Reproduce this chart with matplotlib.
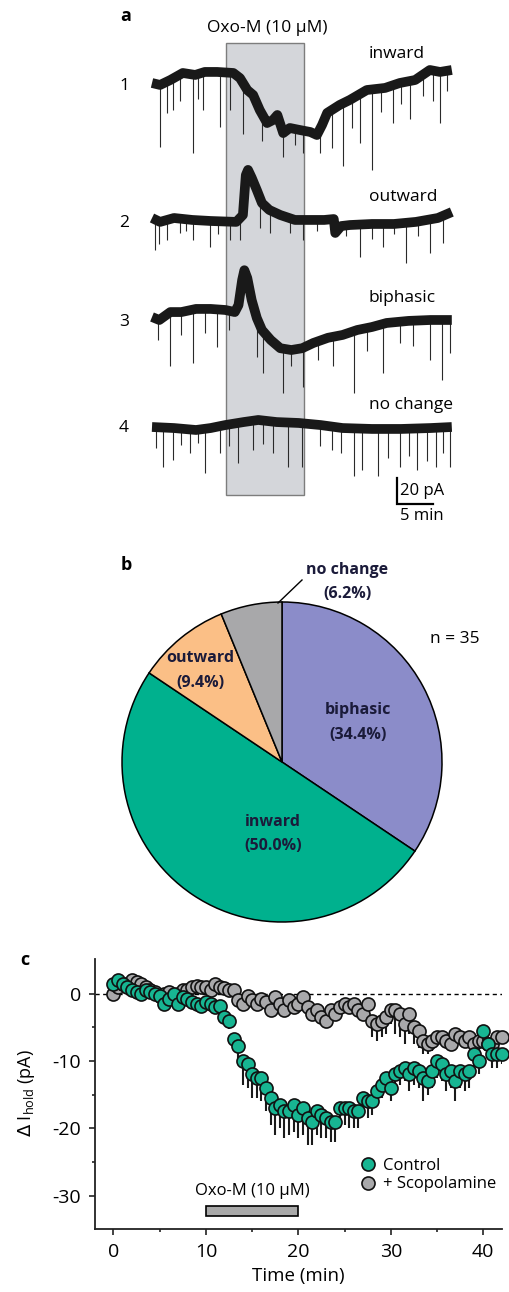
import numpy as np
import matplotlib
matplotlib.use('Agg')
import matplotlib.pyplot as plt
from matplotlib.patches import Rectangle
from matplotlib.lines import Line2D

plt.rcParams['font.family'] = ['Open Sans', 'DejaVu Sans']

W, H = 510, 1292
def fx(px): return px / W
def fy(py): return 1 - py / H

# ---------------- panel a: example traces (min, pA relative to start) ----------------
tr1_t = [0.0, 1.1, 2.5, 4.2, 5.9, 7.2, 8.9, 11.1, 12.0, 13.0, 13.8, 14.7, 15.7, 16.5, 17.1,
         17.9, 18.8, 20.2, 21.6, 22.5, 23.2, 23.9, 25.6, 27.0, 29.3, 31.8, 33.8, 35.9, 37.9, 39.3, 40.9]
tr1_v = [0, -1.5, 2.3, 7.7, 6.2, 8.5, 8.5, 7.7, 3.8, -5.4, -9.2, -20.8, -30.8, -28.5, -24.6,
         -38.5, -34.6, -36.2, -37.7, -40, -32.3, -23, -16.9, -13, -5.4, -3.8, 0, 2.3, 10, 8.5, 10]
sp1_t = [1.1, 2.0, 2.9, 5.6, 7.0, 9.3, 10.6, 12.4, 17.9, 20.6, 22.9, 26.1, 28.4, 30.0, 32.9, 35.2, 39.3,
         3.8, 6.3, 15.0, 19.5, 24.5, 27.3, 31.2, 34.0, 37.0, 38.3, 40.2]
sp1_b = [-49, -23, -21, -54, -21, -34, -21, -39, -57, -54, -54, -64, -46, -67, -31, -28, -31,
         -14, -12, -45, -48, -50, -35, -22, -16, -10, -14, -6]

tr2_t = [0.0, 1.1, 3.0, 5.5, 8.0, 11.5, 12.4, 12.8, 13.1, 13.6, 14.3, 15.0, 16.0, 17.5, 19.5,
         21.5, 23.5, 24.8, 25.0, 25.8, 27.0, 30.0, 33.0, 36.0, 39.0, 40.9]
tr2_v = [0, -3, 0, -1.5, -2.3, -3, 2.3, 33, 37, 31, 21.5, 11.5, 6.2, 2.3, -1.5,
         -1.5, -1.5, -0.8, -11.5, -6.2, -5.4, -4.6, -4.6, -3, 0, 4.6]
sp2_t = [0.4, 2.0, 3.8, 5.6, 7.9, 10.6, 12.0, 16.1, 18.8, 20.6, 28.4, 31.5, 34.7, 37.9, 39.7,
         1.0, 4.6, 9.0, 14.8, 22.5, 26.5, 30.0, 33.0, 36.3]
sp2_b = [-24.6, -17, -11.5, -17, -22, -17, -17, -11.5, -11.5, -17, -29.7, -22, -35, -27, -19.5,
         -20, -10, -12, -8, -10, -14, -16, -12, -14]

tr3_t = [0.0, 1.0, 2.5, 4.0, 6.0, 8.0, 10.0, 11.3, 11.8, 12.3, 12.6, 13.0, 13.6, 14.3, 15.0,
         16.2, 17.5, 19.0, 20.5, 22.0, 24.0, 26.0, 28.0, 30.0, 32.0, 35.0, 38.0, 40.9]
tr3_v = [0, -2.3, 3.8, 3.8, 6.2, 6.2, 5.4, 3.8, 9.2, 28.5, 36, 30, 13, -0.8, -10,
         -17.7, -24, -25.4, -24, -20, -16, -13.8, -10, -7.7, -4.6, -3, -2.3, -2.3]
sp3_t = [2.5, 5.6, 8.9, 14.3, 15.2, 17.9, 20.6, 24.7, 27.5, 31.5, 37.9, 39.5, 40.7,
         0.8, 4.0, 7.2, 10.5, 19.0, 22.6, 29.3, 33.8, 35.6]
sp3_b = [-38, -35.6, -23, -30.5, -43, -58.7, -53.6, -38, -58.7, -43, -33, -48.5, -28,
         -18, -14, -12, -10, -38, -33, -26, -20, -22]

tr4_t = [0, 3, 6, 8, 10, 12.5, 14.5, 17, 20, 23, 26, 30, 34, 38, 40.9]
tr4_v = [0, -0.8, -2.3, -0.8, 1.5, 3.8, 5.4, 3.8, 3.1, 1.5, -0.8, -1.5, -1.5, -0.8, 0]
sp4_t = [1.5, 2.9, 5.2, 7.2, 9.3, 11.8, 13.8, 16.5, 18.6, 20.4, 22.9, 27.5, 28.6, 30.9, 33.8,
         36.1, 38.8, 40.7, 0.6, 4.0, 6.3, 10.5, 15.2, 24.5, 25.8, 32.2, 35.0, 37.5, 39.7]
sp4_b = [-30.5, -25.4, -20, -35.6, -20, -28, -17.7, -20, -30.5, -30.5, -15, -38, -33, -38, -30.5,
         -33, -30.5, -30.5, -16, -14, -12, -15, -13, -18, -20, -24, -22, -26, -20]

traces = [(tr1_t, tr1_v, sp1_t, sp1_b), (tr2_t, tr2_v, sp2_t, sp2_b),
          (tr3_t, tr3_v, sp3_t, sp3_b), (tr4_t, tr4_v, sp4_t, sp4_b)]
trace_nums = ['1', '2', '3', '4']
trace_names = ['inward', 'outward', 'biphasic', 'no change']
oxo_a = (10.1, 20.7)

# ---------------- panel b: response types ----------------
pie_labels = ['biphasic', 'inward', 'outward', 'no change']
pie_pct = [34.4, 50.0, 9.4, 6.2]
pie_colors = ['#8b8cc9', '#00b18e', '#fbbf86', '#a8a8aa']

# ---------------- panel c: mean holding current ----------------
time_c = np.arange(0, 42.5, 0.5)
ctrl = [1.5, 2.0, 1.5, 1.0, 0.5, 0.3, 0.0, 0.5, 0.3, 0.0,
        -0.3, -1.5, -0.8, 0.0, -1.5, -0.5, -0.8, -1.2, -1.5, -1.8,
        -1.3, -1.6, -2.0, -1.8, -3.5, -4.0, -6.8, -7.8, -10.0, -10.5,
        -12.0, -12.5, -12.5, -14.0, -15.5, -17.0, -16.5, -17.5, -17.5, -16.5,
        -18.0, -17.0, -18.5, -19.0, -17.5, -18.0, -18.5, -19.0, -19.0, -17.0,
        -17.0, -17.0, -17.5, -17.5, -15.5, -16.0, -16.0, -14.5, -13.5, -12.5,
        -14.0, -12.0, -11.5, -11.0, -12.0, -11.0, -11.5, -12.5, -13.0, -11.5,
        -10.0, -10.5, -12.0, -11.5, -13.0, -11.5, -12.0, -11.5, -9.0, -10.0,
        -5.5, -7.5, -9.0, -9.0, -9.0]
ctrl_err = [0.8] * 24 + [1.0, 1.2, 1.5, 2.0, 3.5, 3.5, 3.5, 3.0, 3.5, 3.5,
                         4.0, 4.0, 3.5, 4.0, 3.5, 4.0, 3.5, 4.0, 4.0, 3.5,
                         3.5, 3.5, 3.0, 3.0, 3.0, 3.0, 2.5, 3.0, 2.5, 2.5,
                         2.5, 2.5, 2.0, 2.0, 2.0, 2.0, 2.0, 2.0, 2.0, 2.0,
                         2.5, 2.5, 2.5, 3.5, 2.0, 2.5, 2.5, 2.5, 2.5, 2.5,
                         3.0, 2.5, 2.5, 2.5, 2.0, 2.0, 1.5, 1.5, 2.0, 2.0, 1.5]
scop = [0.0, 1.0, 1.5, 1.5, 2.0, 1.8, 1.5, 1.0, 0.5, 0.3,
        -0.3, 0.0, 0.3, -0.3, 0.0, 0.5, 0.5, 1.0, 1.2, 1.0,
        1.0, 0.5, 1.5, 1.0, 0.8, 0.5, 0.5, -1.0, -1.5, -0.3,
        -1.0, -1.5, -0.8, -1.3, -2.5, -0.5, -1.5, -2.5, -1.0, -2.0,
        -1.5, -0.5, -2.0, -3.0, -2.5, -3.5, -4.0, -2.5, -3.0, -2.0,
        -1.5, -2.0, -1.5, -2.5, -3.0, -1.5, -4.0, -4.5, -4.0, -3.5,
        -2.5, -2.5, -3.0, -4.5, -3.0, -5.0, -5.5, -7.0, -7.5, -7.0,
        -6.5, -6.5, -7.0, -7.5, -6.0, -6.5, -7.0, -6.5, -7.5, -7.0,
        -7.0, -7.5, -7.5, -6.5, -6.5]
scop_err = [0.8] * 56 + [2.5, 2.5, 2.5, 2.5, 2.0, 3.5, 3.5, 3.0, 3.0, 2.5,
                         2.5, 2.0, 1.5, 1.5, 1.0] + [0.8] * 14
oxo_c = (10, 20)

fig = plt.figure(figsize=(W / 100, H / 100), dpi=100)

# ===== panel a =====
ppm, ppa = 7.33, 1.3          # px per minute, px per pA
ax_a = fig.add_axes([0, fy(540), 1, 540 / H])
ax_a.set_xlim(-152 / ppm, (W - 152) / ppm)
ax_a.set_ylim(-540 / ppa, 0)
ax_a.axis('off')
offsets = [-83 / ppa, -218 / ppa, -317 / ppa, -427 / ppa]

ax_a.add_patch(Rectangle((oxo_a[0], -495 / ppa), oxo_a[1] - oxo_a[0], (495 - 42.7) / ppa,
                         fc='#d4d6da', ec='#7d7d7d', lw=1.0, zorder=0))
for (t, v, st, sb), off in zip(traces, offsets):
    v = np.array(v) + off
    top = np.interp(st, t, v)
    ax_a.vlines(st, np.array(sb) + off, top, color='#2a2a2a', lw=0.8, zorder=2)
    ax_a.plot(t, v, color='#191919', lw=7.0, solid_joinstyle='round',
              solid_capstyle='butt', zorder=4)

# scale bar: 20 pA, 5 min
sb_t, sb_y = 33.4, -504 / ppa
ax_a.plot([sb_t, sb_t, sb_t + 5], [sb_y + 20, sb_y, sb_y], color='black', lw=1.6,
          solid_joinstyle='miter')
fig.text(fx(400), fy(491), '20 pA', fontsize=12, ha='left', va='center')
fig.text(fx(422), fy(516), '5 min', fontsize=12, ha='center', va='center')

fig.text(fx(126), fy(16), 'a', fontsize=13, fontweight='bold', ha='center', va='center')
fig.text(fx(267), fy(28), 'Oxo-M (10 µM)', fontsize=12.5, ha='center', va='center')
num_y = [86, 223, 322, 428]
name_y = [54, 197, 298, 405]
for n, ny, nm, my in zip(trace_nums, num_y, trace_names, name_y):
    fig.text(fx(124), fy(ny), n, fontsize=12.5, ha='center', va='center')
    fig.text(fx(369), fy(my), nm, fontsize=12.5, ha='left', va='center')

# ===== panel b =====
cx, cy, r = 282, 762, 160
ax_b = fig.add_axes([fx(cx - 170), fy(cy + 170), 340 / W, 340 / H])
ax_b.pie(pie_pct, colors=pie_colors, startangle=90, counterclock=False,
         wedgeprops=dict(edgecolor='black', linewidth=1.1))
ax_b.set_xlim(-170 / r, 170 / r)
ax_b.set_ylim(-170 / r, 170 / r)
txt_c = '#1b1b3a'
pie_pos = {'biphasic': (358, 710, 735), 'inward': (273, 822, 846),
           'outward': (200, 658, 683), 'no change': (347, 570, 594)}
for lab, p in zip(pie_labels, pie_pct):
    x, y1, y2 = pie_pos[lab]
    fig.text(fx(x), fy(y1), lab, fontsize=11.5, fontweight='bold', color=txt_c, ha='center', va='center')
    fig.text(fx(x), fy(y2), '(%.1f%%)' % p, fontsize=11.5, fontweight='bold', color=txt_c,
             ha='center', va='center')
fig.add_artist(Line2D([fx(278), fx(302)], [fy(603), fy(580)], color='black', lw=1.0))
fig.text(fx(455), fy(639), 'n = 35', fontsize=12.5, ha='center', va='center')
fig.text(fx(126), fy(565), 'b', fontsize=13, fontweight='bold', ha='center', va='center')

# ===== panel c =====
ax_c = fig.add_axes([fx(95), fy(1229.3), (501.7 - 95) / W, (1229.3 - 959.3) / H])
ax_c.set_xlim(-2, 42)
ax_c.set_ylim(-35, 5.1)
ax_c.axhline(0, color='black', lw=1.0, ls=(0, (3, 2.5)), zorder=1)
ax_c.vlines(time_c, np.array(scop) - np.array(scop_err), scop, color='#1a1a1a', lw=1.5, zorder=2)
ax_c.plot(time_c, scop, 'o', ms=9.4, mfc='#a9a9ab', mec='#111111', mew=1.2, zorder=3,
          clip_on=False, label='+ Scopolamine')
ax_c.vlines(time_c, np.array(ctrl) - np.array(ctrl_err), ctrl, color='#1a1a1a', lw=1.5, zorder=4)
ax_c.plot(time_c, ctrl, 'o', ms=9.4, mfc='#17b592', mec='#111111', mew=1.2, zorder=5,
          clip_on=False, label='Control')
ax_c.add_patch(Rectangle((oxo_c[0], -33.0), oxo_c[1] - oxo_c[0], 1.5, fc='#a9a9a9', ec='black', lw=1.2))
ax_c.text(15, -29.3, 'Oxo-M (10 µM)', fontsize=12, ha='center', va='center')

for s in ['top', 'right']:
    ax_c.spines[s].set_visible(False)
for s in ['left', 'bottom']:
    ax_c.spines[s].set_linewidth(1.3)
    ax_c.spines[s].set_color('#222222')
ax_c.set_xticks([0, 10, 20, 30, 40])
ax_c.set_xticks([5, 15, 25, 35], minor=True)
ax_c.set_yticks([0, -10, -20, -30])
ax_c.set_yticks([-5, -15, -25], minor=True)
ax_c.set_yticklabels(['0', '-10', '-20', '-30'])
ax_c.tick_params(which='major', length=4, width=1.2, labelsize=14, pad=6, color='#222222')
ax_c.tick_params(which='minor', length=2, width=1.2, color='#222222')
ax_c.set_xlabel('Time (min)', fontsize=13.5, labelpad=4)
fig.text(fx(27), fy(1093), r'$\Delta$ I$_{\mathregular{hold}}$ (pA)', fontsize=13, rotation=90,
         ha='center', va='center')
h, l = ax_c.get_legend_handles_labels()
ax_c.legend(h[::-1], l[::-1], loc='upper left', bbox_to_anchor=(fx(361), fy(1158)),
            bbox_transform=fig.transFigure, frameon=False, fontsize=12, borderpad=0,
            handlelength=0.8, handletextpad=0.5, labelspacing=0.15, borderaxespad=0)
fig.text(fx(25), fy(960), 'c', fontsize=13, fontweight='bold', ha='center', va='center')

fig.savefig('out.png', dpi=100)
